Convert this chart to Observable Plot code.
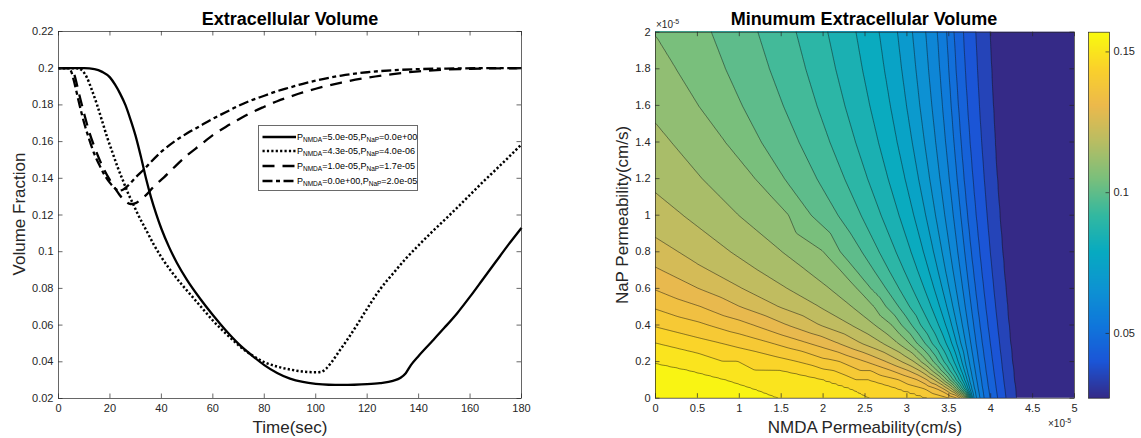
<!DOCTYPE html>
<html>
<head>
<meta charset="utf-8">
<script src="https://cdn.jsdelivr.net/npm/d3@7"></script>
<script src="https://cdn.jsdelivr.net/npm/@observablehq/plot@0.6"></script>
<style>
  body { margin: 0; background: #fff; }
  #fig { position: relative; width: 1141px; height: 438px; overflow: hidden; background: #fff;
         font-family: "Liberation Sans", Arial, Helvetica, sans-serif; color: #262626; }
  #fig svg { position: absolute; top: 0; }
  .txt { position: absolute; white-space: nowrap; line-height: 1; }
  .title { font-weight: bold; font-size: 18px; color: #000; transform: translate(-50%, -50%); }
  .xlab { font-size: 17px; transform: translate(-50%, -50%); }
  .ylab { font-size: 17px; transform: translate(-50%, -50%) rotate(-90deg); }
  .expo { font-size: 10px; }
  .expo sup { font-size: 7px; vertical-align: 4px; line-height: 0; }
  #legend { position: absolute; left: 258px; top: 125px; width: 160px; height: 66px;
            background: #fff; border: 1px solid #6a6a6a; box-sizing: border-box; }
  .lrow { position: absolute; left: 0; height: 12px; }
  .lrow svg { position: absolute; left: 2px; top: 0; }
  .lrow span { position: absolute; left: 38px; top: 1px; font-size: 9px; color: #000; white-space: nowrap; }
  .lrow sub { font-size: 6.5px; vertical-align: -2px; line-height: 0; }
</style>
</head>
<body>
<div id="fig"></div>
<script>
// ---------- Extracellular volume traces (time in s, volume fraction) ----------
const timeTicks = [0, 20, 40, 60, 80, 100, 120, 140, 160, 180];
const volumeTicks = [0.02, 0.04, 0.06, 0.08, 0.1, 0.12, 0.14, 0.16, 0.18, 0.2, 0.22];

const volNmda50Nap0 = [[0,0.2],[10,0.2],[14,0.1995],[17,0.198],[20,0.195],[22,0.191],[24,0.186],[26,0.18],[28,0.172],[30,0.163],[32,0.152],[34,0.14],[36,0.1295],[38,0.1205],[40,0.1125],[43,0.1025],[46,0.094],[50,0.0845],[55,0.0745],[60,0.0655],[65,0.0572],[70,0.0498],[75,0.0437],[80,0.0382],[85,0.0339],[90,0.0308],[95,0.029],[100,0.028],[105,0.0275],[110,0.0274],[115,0.0275],[120,0.0278],[125,0.0284],[130,0.0296],[133,0.0313],[135,0.0338],[137,0.0382],[140,0.0432],[145,0.0508],[150,0.0585],[155,0.0665],[160,0.0755],[165,0.085],[170,0.0945],[175,0.104],[180,0.113]];
const volNmda43Nap04 = [[0,0.2],[7,0.2],[9,0.199],[11,0.195],[13,0.188],[15,0.18],[17,0.171],[19,0.162],[21,0.154],[23,0.146],[25,0.139],[27,0.132],[29,0.126],[31,0.12],[34,0.112],[37,0.104],[40,0.097],[44,0.089],[48,0.082],[52,0.0755],[56,0.069],[60,0.0625],[65,0.0555],[70,0.049],[75,0.0438],[80,0.0398],[85,0.0374],[90,0.0358],[95,0.0347],[100,0.0343],[102,0.0345],[104,0.0362],[106,0.0395],[109,0.0455],[112,0.0515],[116,0.06],[120,0.069],[125,0.0795],[130,0.088],[135,0.0962],[140,0.1035],[145,0.1105],[150,0.1172],[155,0.124],[160,0.131],[165,0.138],[170,0.1447],[175,0.1515],[180,0.1585]];
const volNmda10Nap17 = [[0,0.2],[4.5,0.2],[6,0.197],[8,0.186],[10,0.175],[12,0.165],[14,0.157],[16,0.15],[18,0.144],[20,0.139],[22,0.1345],[24,0.1305],[26,0.1275],[28,0.126],[30,0.1265],[32,0.1285],[34.5,0.1315],[37,0.1355],[41,0.1405],[45,0.146],[50,0.1525],[55,0.158],[60,0.1635],[65,0.168],[70,0.172],[75,0.1758],[80,0.179],[85,0.182],[90,0.1845],[95,0.1868],[100,0.1888],[110,0.1922],[120,0.1948],[130,0.1968],[140,0.1983],[150,0.1992],[160,0.1997],[170,0.1999],[180,0.2]];
const volNmda0Nap20 = [[0,0.2],[4,0.2],[5,0.198],[6,0.193],[8,0.181],[10,0.17],[12,0.161],[14,0.153],[16,0.147],[18,0.1415],[20,0.1375],[22,0.1345],[23.5,0.1333],[25,0.1338],[27,0.136],[30,0.1405],[33,0.1445],[36,0.149],[40,0.1545],[45,0.16],[50,0.1645],[55,0.1685],[60,0.1725],[65,0.176],[70,0.1795],[75,0.1825],[80,0.185],[85,0.1875],[90,0.1895],[95,0.1915],[100,0.1932],[110,0.196],[120,0.1978],[130,0.1989],[140,0.1995],[150,0.1998],[165,0.2],[180,0.2]];

const seriesNmda = [5.0e-5, 4.3e-5, 1.0e-5, 0];
const seriesNap = [0, 4.0e-6, 1.7e-5, 2.0e-5];
const seriesDash = [null, "2.2,2.2", "12,8", "10,3.5,4,3.5"];

// ---------- Minimum extracellular volume over the permeability plane ----------
// permeabilities in units of 1e-5 cm/s
const nmdaTicks = [0, 0.5, 1, 1.5, 2, 2.5, 3, 3.5, 4, 4.5, 5];
const napTicks = [0, 0.2, 0.4, 0.6, 0.8, 1, 1.2, 1.4, 1.6, 1.8, 2];
const isoLevels = [0.035,0.04,0.045,0.05,0.055,0.06,0.065,0.07,0.075,0.08,0.085,0.09,0.095,0.1,0.105,0.11,0.115,0.12,0.125,0.13,0.135,0.14,0.145,0.15,0.155];

// isolines entering through the top edge: NMDA position of each level on every NaP row
const napRows = [2, 1.8, 1.6, 1.4, 1.2, 1.0, 0.8, 0.7, 0.6, 0.5, 0.4, 0.3, 0.2, 0.15, 0.1, 0.05, 0];
const isolinesFromTop = [
  [0.105, [0.656,0.825,1.024,1.253,1.53,1.85,2.2,2.385,2.565,2.749,2.933,3.118,3.313,3.411,3.513,3.617,3.72]],
  [0.100, [1.213,1.351,1.515,1.704,1.918,2.171,2.458,2.6,2.746,2.898,3.054,3.214,3.38,3.465,3.552,3.641,3.73]],
  [0.095, [1.671,1.785,1.919,2.074,2.25,2.447,2.664,2.78,2.902,3.029,3.161,3.298,3.44,3.513,3.587,3.663,3.74]],
  [0.090, [2.049,2.143,2.253,2.381,2.525,2.687,2.865,2.961,3.061,3.165,3.274,3.386,3.503,3.563,3.624,3.687,3.75]],
  [0.085, [2.387,2.463,2.552,2.655,2.771,2.902,3.046,3.123,3.204,3.288,3.376,3.466,3.561,3.609,3.659,3.709,3.76]],
  [0.080, [2.665,2.726,2.798,2.88,2.974,3.079,3.195,3.258,3.322,3.39,3.461,3.534,3.61,3.649,3.688,3.729,3.77]],
  [0.075, [2.884,2.934,2.992,3.06,3.136,3.222,3.316,3.367,3.42,3.475,3.533,3.592,3.654,3.686,3.719,3.751,3.785]],
  [0.070, [3.063,3.104,3.151,3.207,3.269,3.339,3.417,3.458,3.502,3.547,3.594,3.642,3.693,3.719,3.746,3.773,3.8]],
  [0.065, [3.222,3.255,3.295,3.341,3.392,3.45,3.514,3.548,3.584,3.621,3.66,3.7,3.742,3.763,3.785,3.807,3.83]],
  [0.060, [3.361,3.389,3.422,3.46,3.504,3.552,3.605,3.634,3.664,3.695,3.727,3.761,3.796,3.814,3.832,3.851,3.87]],
  [0.055, [3.473,3.498,3.527,3.56,3.598,3.641,3.688,3.713,3.739,3.766,3.795,3.824,3.855,3.871,3.887,3.903,3.92]],
  [0.050, [3.56,3.584,3.612,3.644,3.68,3.721,3.766,3.791,3.816,3.842,3.87,3.898,3.928,3.943,3.958,3.974,3.99]],
  [0.045, [3.671,3.693,3.72,3.751,3.786,3.824,3.867,3.89,3.914,3.939,3.965,3.993,4.021,4.035,4.05,4.065,4.08]],
  [0.040, [3.819,3.839,3.862,3.889,3.92,3.954,3.992,4.013,4.034,4.056,4.079,4.103,4.128,4.14,4.153,4.167,4.18]],
  [0.035, [3.978,3.996,4.017,4.041,4.068,4.099,4.133,4.151,4.17,4.189,4.21,4.231,4.253,4.265,4.276,4.288,4.3]]
];
// isolines entering through the left edge: [NMDA, NaP] points
const isolinesFromLeft = [
  [0.110, [[0,1.973],[0.232,1.8],[0.5,1.6],[0.823,1.4],[1.18,1.2],[1.583,1.0],[2.0,0.8],[2.2,0.7],[2.4,0.6],[2.605,0.5],[2.816,0.4],[3.026,0.3],[3.247,0.2],[3.359,0.15],[3.475,0.1],[3.593,0.05],[3.71,0]]],
  [0.115, [[0,1.496],[0.174,1.4],[0.543,1.2],[0.978,1.0],[1.5,0.8],[1.786,0.7],[2.068,0.6],[2.338,0.5],[2.612,0.4],[2.891,0.3],[3.166,0.2],[3.299,0.15],[3.432,0.1],[3.566,0.05],[3.7,0]]],
  [0.120, [[0,1.117],[0.313,1.0],[0.882,0.8],[1.207,0.7],[1.558,0.6],[1.942,0.5],[2.327,0.4],[2.706,0.3],[3.081,0.2],[3.236,0.15],[3.388,0.1],[3.539,0.05],[3.69,0]]],
  [0.125, [[0,0.874],[0.257,0.8],[0.5,0.73],[0.62,0.7],[1.022,0.6],[1.457,0.5],[1.95,0.4],[2.45,0.3],[2.932,0.2],[3.152,0.15],[3.324,0.1],[3.497,0.05],[3.67,0]]],
  [0.130, [[0,0.713],[0.058,0.7],[0.5,0.6],[1.0,0.5],[1.563,0.4],[1.85,0.354],[2.176,0.3],[2.745,0.2],[3.018,0.15],[3.24,0.1],[3.44,0.05],[3.64,0]]],
  [0.135, [[0,0.589],[0.531,0.5],[1.0,0.425],[1.156,0.4],[1.5,0.345],[1.821,0.3],[2.0,0.275],[2.5,0.2],[2.816,0.15],[3.124,0.1],[3.362,0.05],[3.6,0]]],
  [0.140, [[0,0.485],[0.615,0.4],[1.0,0.35],[1.385,0.3],[1.75,0.255],[2.192,0.2],[2.567,0.15],[2.9,0.1],[3.214,0.05],[3.5,0]]],
  [0.145, [[0,0.388],[0.5,0.33],[0.773,0.3],[1.2,0.253],[1.682,0.2],[2.125,0.15],[2.536,0.1],[2.9,0.05],[3.25,0]]],
  [0.150, [[0,0.3],[0.5,0.245],[0.979,0.2],[1.5,0.15],[2.0,0.1],[2.334,0.05],[2.55,0]]],
  [0.155, [[0,0.188],[0.396,0.15],[0.823,0.1],[1.162,0.05],[1.45,0]]]
];
// edge samples away from the isolines: [NMDA, NaP, minimum volume]
const edgeSamples = [[0,0,0.1575],[0.7,0,0.1565],[0,2,0.1095],[5,0,0.027],[5,1,0.0275],[5,2,0.0285]];

const colorTicks = [0.05, 0.1, 0.15];
const volumeRange = [0.027, 0.157];
// parula colormap, evenly spaced stops
const parula = ["#352a87","#1b55d7","#0f77db","#0d93d2","#07aac1","#33b8a1","#7abf7c","#b8bd63","#ecb94c","#fad12b","#f9fb0e"];

// ---------- build tables ----------
const samples = [
  ...isolinesFromTop.flatMap(([v, xs]) => xs.map((x, i) => ({nmda: x, nap: napRows[i], vmin: v}))),
  ...isolinesFromLeft.flatMap(([v, pts]) => pts.map(([x, y]) => ({nmda: x, nap: y, vmin: v}))),
  ...edgeSamples.map(([x, y, v]) => ({nmda: x, nap: y, vmin: v}))
];
// mirror the boundary samples just outside the axes so the interpolated field
// covers the whole frame and no outline runs along its edges
const pad = 0.12;
const fieldSamples = samples.flatMap(d => {
  const xs = [d.nmda, ...(d.nmda === 0 ? [-pad] : d.nmda === 5 ? [5 + pad] : [])];
  const ys = [d.nap, ...(d.nap === 0 ? [-pad] : d.nap === 2 ? [2 + pad] : [])];
  return xs.flatMap(x => ys.map(y => ({...d, nmda: x, nap: y})));
});
// isoline samples sit exactly on their level; cut a hair below it so that
// flat patches of the interpolated field fall cleanly inside each band
const cutLevels = isoLevels.map(v => v - 1e-4);

const colorScale = {
  type: "linear",
  domain: parula.map((_, i) => volumeRange[0] + (volumeRange[1] - volumeRange[0]) * i / (parula.length - 1)),
  range: parula,
  clamp: true
};

const fmt = d3.format("~g");
const font = '"Liberation Sans", Arial, Helvetica, sans-serif';
const axisStroke = {stroke: "#262626", strokeWidth: 0.7};

function boxTicks(xt, yt, w, h, len) {
  return [
    Plot.tickX(xt, {x: d => d, insetTop: h - len, ...axisStroke}),
    Plot.tickX(xt, {x: d => d, insetBottom: h - len, ...axisStroke}),
    Plot.tickY(yt, {y: d => d, insetRight: w - len, ...axisStroke}),
    Plot.tickY(yt, {y: d => d, insetLeft: w - len, ...axisStroke})
  ];
}

const fig = document.getElementById("fig");

// ---------- left panel ----------
const L = {width: 560, height: 438, ml: 58, mr: 39, mt: 31, mb: 40};
const series = [volNmda50Nap0, volNmda43Nap04, volNmda10Nap17, volNmda0Nap20];
const leftPlot = Plot.plot({
  width: L.width, height: L.height,
  marginLeft: L.ml, marginRight: L.mr, marginTop: L.mt, marginBottom: L.mb,
  style: {fontFamily: font, fontSize: "11px", color: "#262626", background: "transparent", overflow: "visible"},
  x: {domain: [0, 180]},
  y: {domain: [0.02, 0.22]},
  marks: [
    ...series.map((s, i) => Plot.line(s, {
      x: d => d[0], y: d => d[1], stroke: "#000", strokeWidth: i === 1 ? 2.5 : 2.3,
      strokeDasharray: seriesDash[i], curve: "monotone-x", strokeLinecap: "butt"
    })),
    Plot.frame(axisStroke),
    ...boxTicks(timeTicks, volumeTicks, L.width - L.ml - L.mr, L.height - L.mt - L.mb, 4.5),
    Plot.axisX(timeTicks, {tickSize: 0, tickPadding: 6, tickFormat: fmt, label: null}),
    Plot.axisY(volumeTicks, {tickSize: 0, tickPadding: 5, tickFormat: fmt, label: null})
  ]
});
leftPlot.style.left = "0px";
fig.appendChild(leftPlot);

// ---------- right panel ----------
const R = {left: 590, width: 500, height: 438, ml: 65, mr: 16, mt: 31.7, mb: 40.3};
const field = {x: "nmda", y: "nap", interpolate: "barycentric", x1: -0.08, x2: 5.08, y1: -0.08, y2: 2.08, clip: true};
const rightPlot = Plot.plot({
  width: R.width, height: R.height,
  marginLeft: R.ml, marginRight: R.mr, marginTop: R.mt, marginBottom: R.mb,
  style: {fontFamily: font, fontSize: "11px", color: "#262626", background: "transparent", overflow: "visible"},
  x: {domain: [0, 5]},
  y: {domain: [0, 2]},
  color: colorScale,
  marks: [
    Plot.contour(fieldSamples, {...field, fill: "vmin", stroke: "none", thresholds: [0.02, ...cutLevels]}),
    Plot.contour(fieldSamples, {...field, value: "vmin", fill: "none", stroke: "#111", strokeWidth: 0.6, strokeOpacity: 0.8, thresholds: cutLevels}),
    Plot.frame(axisStroke),
    ...boxTicks(nmdaTicks, napTicks, R.width - R.ml - R.mr, R.height - R.mt - R.mb, 4.5),
    Plot.axisX(nmdaTicks, {tickSize: 0, tickPadding: 6, tickFormat: fmt, label: null}),
    Plot.axisY(napTicks, {tickSize: 0, tickPadding: 5, tickFormat: fmt, label: null})
  ]
});
rightPlot.style.left = R.left + "px";
fig.appendChild(rightPlot);

// ---------- colorbar ----------
const C = {left: 1080, width: 61, height: 438, ml: 8, mr: 32, mt: 31.7, mb: 40.3};
const colorbar = Plot.plot({
  width: C.width, height: C.height,
  marginLeft: C.ml, marginRight: C.mr, marginTop: C.mt, marginBottom: C.mb,
  style: {fontFamily: font, fontSize: "11px", color: "#262626", background: "transparent", overflow: "visible"},
  x: {domain: [0, 1], axis: null},
  y: {domain: volumeRange, axis: null},
  color: colorScale,
  marks: [
    Plot.raster({fill: (x, y) => y, x1: 0, x2: 1, y1: volumeRange[0], y2: volumeRange[1]}),
    Plot.frame(axisStroke),
    Plot.tickY(colorTicks, {y: d => d, insetLeft: C.width - C.ml - C.mr - 3.5, ...axisStroke}),
    Plot.axisY(colorTicks, {anchor: "right", tickSize: 0, tickPadding: 4, tickFormat: fmt, label: null})
  ]
});
colorbar.style.left = C.left + "px";
fig.appendChild(colorbar);

// ---------- text ----------
function addText(cls, html, left, top) {
  const el = document.createElement("div");
  el.className = "txt " + cls;
  el.innerHTML = html;
  el.style.left = left + "px";
  el.style.top = top + "px";
  fig.appendChild(el);
  return el;
}
addText("title", "Extracellular Volume", 290, 19);
addText("title", "Minumum Extracellular Volume", 864, 19);
addText("xlab", "Time(sec)", 290, 427);
addText("ylab", "Volume Fraction", 19, 214);
addText("xlab", "NMDA Permeability(cm/s)", 865, 427);
addText("ylab", "NaP Permeability(cm/s)", 622, 215);
addText("expo", "&times;10<sup>-5</sup>", 656, 20);
addText("expo", "&times;10<sup>-5</sup>", 1048, 419);

// ---------- legend ----------
const sci = v => {
  const [m, e] = v.toExponential(1).split("e");
  const n = +e;
  return m + "e" + (n < 0 ? "-" : "+") + String(Math.abs(n)).padStart(2, "0");
};
const legend = document.createElement("div");
legend.id = "legend";
const rowTops = [4.5, 19, 33.5, 48.5];
seriesNmda.forEach((nm, i) => {
  const row = document.createElement("div");
  row.className = "lrow";
  row.style.top = rowTops[i] + "px";
  const dash = seriesDash[i] ? `stroke-dasharray="${seriesDash[i]}"` : "";
  row.innerHTML =
    `<svg width="36" height="12"><line x1="1.5" y1="6" x2="35" y2="6" stroke="#000" stroke-width="2.3" ${dash}/></svg>` +
    `<span>P<sub>NMDA</sub>=${sci(nm)},P<sub>NaP</sub>=${sci(seriesNap[i])}</span>`;
  legend.appendChild(row);
});
fig.appendChild(legend);
</script>
</body>
</html>
